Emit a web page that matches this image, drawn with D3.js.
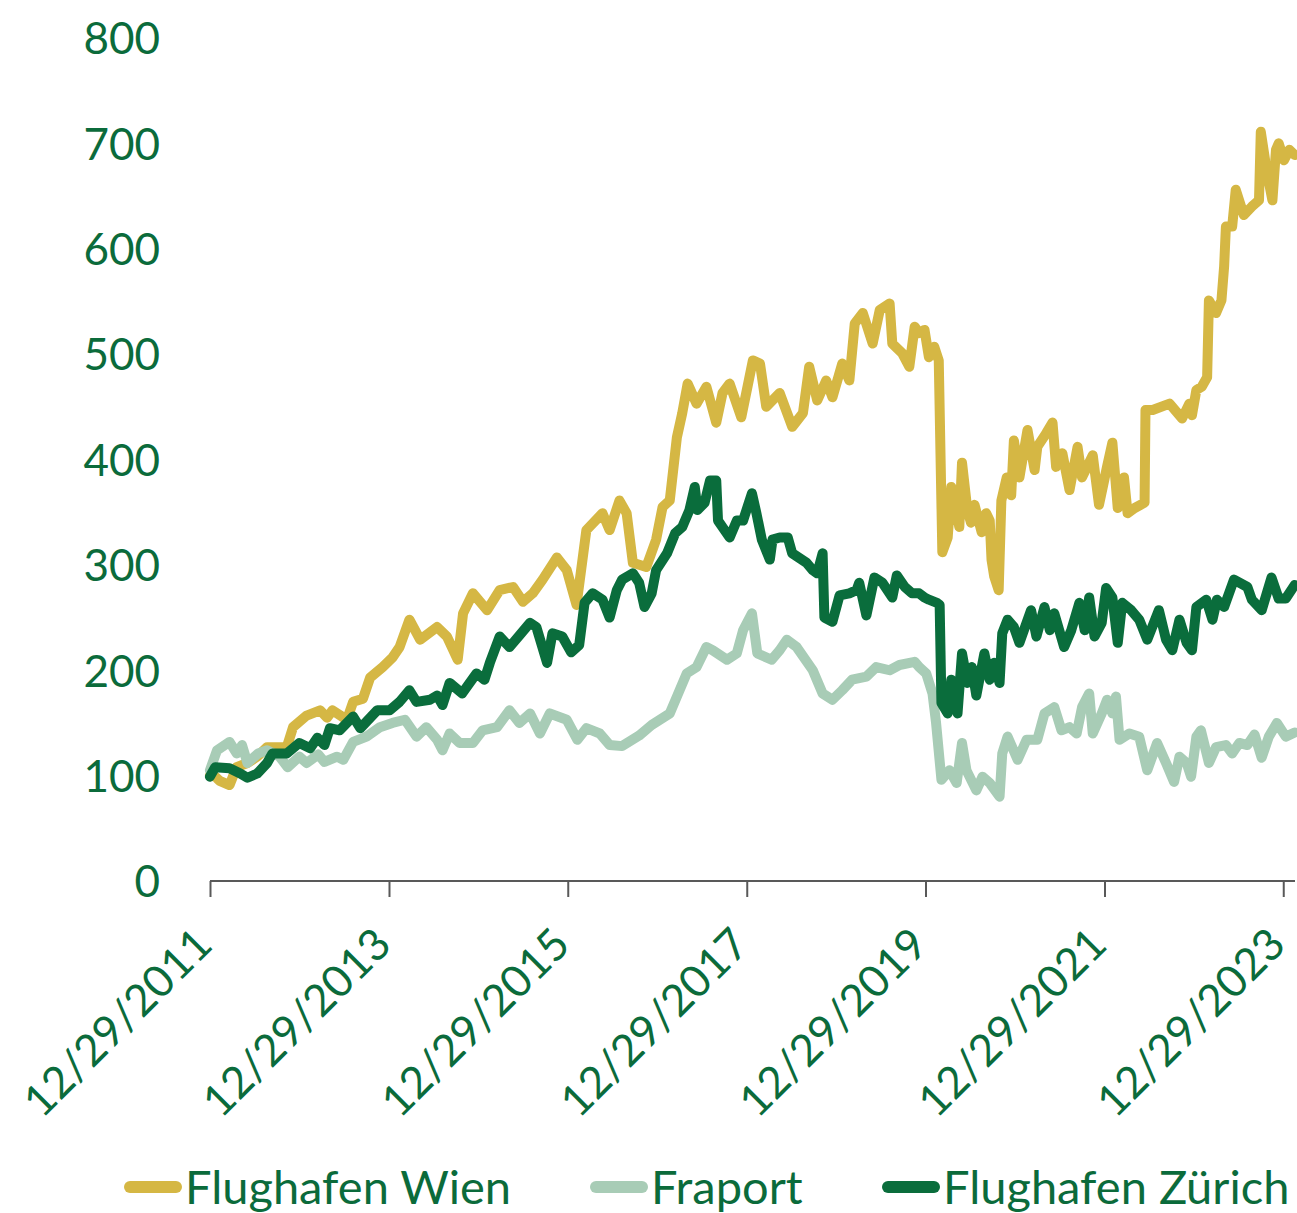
<!DOCTYPE html>
<html><head><meta charset="utf-8">
<script src="https://cdn.jsdelivr.net/npm/d3@7"></script>
<style>
html,body{margin:0;padding:0;background:#fff;}
text{font-family:Lato,"Noto Sans",sans-serif;fill:#0B6B3B;}
</style></head>
<body><svg id="c" width="1297" height="1213"></svg>
<script>
// ---- data (decimal years, index values) ----
const seriesNames = ["Flughafen Wien","Fraport","Flughafen Zürich"];
const seriesColors = ["#D5B744","#A8CCB6","#0A6D3C"];

const wienT = [2011.99,2012.05,2012.10,2012.21,2012.29,2012.41,2012.52,2012.63,2012.85,2012.92,2013.07,2013.22,2013.30,2013.36,2013.52,2013.59,2013.70,2013.78,2013.92,2014.03,2014.11,2014.22,2014.34,2014.53,2014.64,2014.76,2014.82,2014.93,2015.09,2015.23,2015.38,2015.49,2015.60,2015.71,2015.87,2015.98,2016.09,2016.20,2016.38,2016.46,2016.57,2016.65,2016.72,2016.87,2016.98,2017.05,2017.13,2017.21,2017.27,2017.33,2017.43,2017.54,2017.65,2017.72,2017.80,2017.93,2018.06,2018.14,2018.21,2018.36,2018.50,2018.62,2018.69,2018.78,2018.88,2018.95,2019.06,2019.14,2019.20,2019.29,2019.40,2019.48,2019.59,2019.62,2019.73,2019.81,2019.87,2019.92,2019.98,2020.03,2020.09,2020.14,2020.18,2020.24,2020.28,2020.34,2020.37,2020.40,2020.46,2020.50,2020.54,2020.62,2020.67,2020.71,2020.73,2020.76,2020.81,2020.84,2020.90,2020.95,2020.98,2021.04,2021.13,2021.21,2021.24,2021.34,2021.41,2021.45,2021.52,2021.60,2021.69,2021.74,2021.86,2021.93,2022.02,2022.08,2022.14,2022.21,2022.25,2022.33,2022.44,2022.45,2022.53,2022.72,2022.86,2022.94,2022.97,2023.02,2023.08,2023.14,2023.16,2023.24,2023.30,2023.33,2023.35,2023.42,2023.46,2023.55,2023.64,2023.72,2023.74,2023.81,2023.87,2023.91,2023.94,2024.00,2024.06,2024.12];
const wienV = [100,99,95,91,108,112,118,127,127,146,157,162,155,162,153,170,173,193,203,212,222,248,229,241,232,210,254,273,257,276,279,265,273,286,307,295,262,333,349,333,361,349,302,298,324,355,361,421,444,472,453,469,435,463,472,440,494,491,450,463,431,444,488,456,475,459,491,475,529,539,510,542,548,510,501,488,526,520,523,497,507,494,312,326,374,349,336,397,352,340,357,331,349,342,305,289,276,361,383,366,418,383,428,390,412,425,435,393,406,371,412,383,404,357,393,416,354,383,349,354,359,447,447,453,439,453,442,466,469,478,551,539,551,583,621,621,656,632,640,646,711,672,646,694,700,684,694,689];

const fraT = [2011.99,2012.07,2012.21,2012.29,2012.35,2012.41,2012.53,2012.63,2012.77,2012.86,2012.99,2013.07,2013.20,2013.27,2013.41,2013.48,2013.59,2013.74,2013.89,2014.03,2014.17,2014.30,2014.41,2014.53,2014.59,2014.67,2014.78,2014.93,2015.04,2015.20,2015.34,2015.45,2015.57,2015.68,2015.79,2015.98,2016.10,2016.20,2016.35,2016.46,2016.60,2016.79,2016.93,2017.02,2017.13,2017.21,2017.32,2017.43,2017.54,2017.61,2017.77,2017.88,2017.95,2018.05,2018.11,2018.27,2018.36,2018.44,2018.55,2018.73,2018.84,2018.95,2019.06,2019.17,2019.33,2019.44,2019.59,2019.70,2019.87,2019.92,2020.00,2020.07,2020.11,2020.17,2020.26,2020.34,2020.40,2020.45,2020.56,2020.63,2020.71,2020.82,2020.85,2020.91,2021.02,2021.12,2021.24,2021.32,2021.43,2021.51,2021.60,2021.68,2021.74,2021.82,2021.86,2021.96,2022.02,2022.08,2022.12,2022.16,2022.27,2022.38,2022.47,2022.58,2022.68,2022.77,2022.83,2022.91,2022.96,2023.02,2023.07,2023.16,2023.24,2023.35,2023.42,2023.50,2023.59,2023.67,2023.75,2023.83,2023.92,2024.02,2024.12];
const fraV = [105,124,132,121,129,112,121,124,118,108,118,112,120,113,118,115,132,137,146,150,153,137,146,134,124,140,131,131,143,146,162,150,159,140,159,153,134,145,140,129,128,138,148,153,159,175,197,203,222,219,210,216,238,254,216,210,219,229,222,200,178,172,181,191,194,203,200,205,208,203,197,178,150,96,105,93,131,105,86,99,93,80,121,137,115,134,134,159,165,143,146,140,165,178,140,159,172,159,175,134,140,137,105,131,112,94,118,112,99,137,143,112,127,129,121,131,129,139,117,137,150,137,141];

const zurT = [2011.99,2012.05,2012.21,2012.33,2012.41,2012.52,2012.63,2012.69,2012.85,2012.99,2013.11,2013.19,2013.27,2013.33,2013.44,2013.59,2013.67,2013.86,2014.00,2014.11,2014.22,2014.30,2014.45,2014.53,2014.59,2014.67,2014.81,2014.97,2015.06,2015.12,2015.23,2015.34,2015.45,2015.57,2015.64,2015.76,2015.82,2015.93,2016.03,2016.12,2016.18,2016.27,2016.38,2016.46,2016.54,2016.60,2016.72,2016.79,2016.85,2016.93,2016.98,2017.10,2017.19,2017.27,2017.35,2017.41,2017.44,2017.52,2017.58,2017.65,2017.67,2017.80,2017.88,2017.95,2018.05,2018.10,2018.16,2018.25,2018.28,2018.36,2018.45,2018.50,2018.66,2018.73,2018.78,2018.84,2018.86,2018.95,2019.03,2019.14,2019.22,2019.25,2019.33,2019.42,2019.51,2019.62,2019.67,2019.76,2019.84,2019.92,2019.98,2020.03,2020.12,2020.15,2020.17,2020.24,2020.28,2020.35,2020.40,2020.46,2020.51,2020.56,2020.65,2020.71,2020.76,2020.82,2020.85,2020.91,2020.98,2021.04,2021.17,2021.23,2021.32,2021.38,2021.43,2021.54,2021.62,2021.71,2021.77,2021.82,2021.88,2021.96,2022.01,2022.08,2022.14,2022.19,2022.29,2022.38,2022.47,2022.60,2022.68,2022.75,2022.83,2022.91,2022.97,2023.02,2023.13,2023.20,2023.25,2023.33,2023.44,2023.59,2023.64,2023.75,2023.86,2023.94,2024.02,2024.12];
const zurV = [99,108,107,102,98,102,112,121,121,131,126,136,129,145,143,156,145,162,162,170,181,170,172,176,167,188,178,197,191,207,232,222,233,245,241,207,235,232,217,224,264,273,267,250,276,286,292,283,260,273,295,311,330,336,352,374,352,359,380,380,342,326,342,342,368,349,324,305,324,326,326,311,302,295,292,311,250,246,271,273,276,283,252,288,283,269,290,279,273,273,269,267,264,262,169,159,191,159,216,188,203,176,216,191,207,188,235,248,241,226,257,232,260,238,254,222,238,264,238,269,232,245,278,269,226,264,257,248,229,257,229,219,248,226,219,260,267,248,267,260,286,279,267,257,288,268,268,281];

const yTicks = [0,100,200,300,400,500,600,700,800];
const xTickLabels = ["12/29/2011","12/29/2013","12/29/2015","12/29/2017","12/29/2019","12/29/2021","12/29/2023"];

// ---- helpers ----
const parseLabel = d3.timeParse("%m/%d/%Y");
function decToDate(t){
  const y = Math.floor(t), f = t - y;
  return new Date(Date.UTC(y,0,1) + f*365.25*864e5);
}
const svg = d3.select("#c");
const x = d3.scaleUtc()
  .domain([Date.UTC(2011,11,29), Date.UTC(2024,1,15)])
  .range([210, 1295]);
const y = d3.scaleLinear().domain([0,800]).range([881,38]);

// y axis labels (no line)
const yAxis = d3.axisLeft(y).tickValues(yTicks).tickSize(0).tickPadding(0);
const gy = svg.append("g").attr("transform","translate(160,0)").call(yAxis);
gy.select(".domain").remove();
gy.selectAll("text").style("font-size","44px").attr("dy","0.36em").attr("fill","#0B6B3B");

// x axis
const xTickDates = xTickLabels.map(s => { const d = parseLabel(s); return new Date(Date.UTC(d.getFullYear(), d.getMonth(), d.getDate())); });
const xAxis = d3.axisBottom(x).tickValues(xTickDates).tickSize(16).tickFormat((d,i)=>xTickLabels[i]);
const gx = svg.append("g").attr("transform","translate(0,881)").call(xAxis);
gx.select(".domain").attr("stroke","#595959").attr("stroke-width",2).attr("d","M210,0H1295");
gx.selectAll(".tick line").attr("stroke","#595959").attr("stroke-width",2);
gx.selectAll(".tick text")
  .style("font-size","44px").attr("fill","#0B6B3B")
  .attr("text-anchor","end").attr("dy",null).attr("y",0)
  .attr("transform","translate(4,66) rotate(-45)");

// lines
const line = d3.line().x(d=>x(decToDate(d[0]))).y(d=>y(d[1]));
const series = [d3.zip(wienT,wienV), d3.zip(fraT,fraV), d3.zip(zurT,zurV)];
series.forEach((s,i)=>{
  svg.append("path").datum(s).attr("d",line)
    .attr("fill","none").attr("stroke",seriesColors[i])
    .attr("stroke-width",10).attr("stroke-linejoin","round").attr("stroke-linecap","round");
});

// legend
const legendX = [124, 590, 882];
const lg = svg.append("g");
seriesNames.forEach((n,i)=>{
  lg.append("line").attr("x1",legendX[i]+6).attr("x2",legendX[i]+52).attr("y1",1187).attr("y2",1187)
    .attr("stroke",seriesColors[i]).attr("stroke-width",12).attr("stroke-linecap","round");
  lg.append("text").attr("x",legendX[i]+61).attr("y",1187).attr("dy","0.36em")
    .style("font-size","47px").text(n);
});
</script></body></html>
